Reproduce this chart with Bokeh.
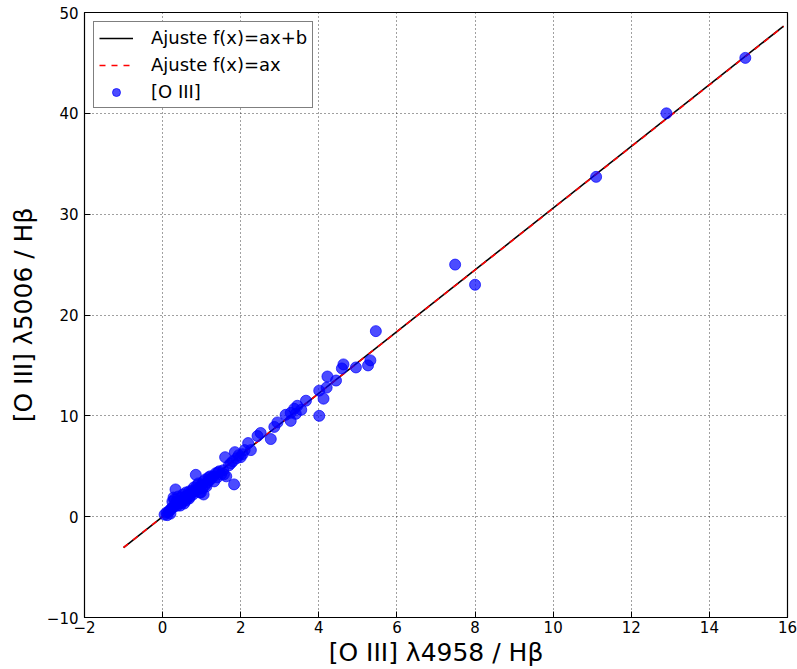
import numpy as np
from bokeh.plotting import figure
from bokeh.models import Range1d, Legend, LegendItem
from bokeh.embed import file_html
from bokeh.resources import INLINE

# Observed ratios: [O III] 4958/Hb (x) and [O III] 5006/Hb (y)
x_oiii = [0.05, 0.10, 0.12, 0.15, 0.18, 0.20, 0.22, 0.25, 0.28, 0.30,
          0.32, 0.35, 0.38, 0.40, 0.33, 0.42, 0.45, 0.48, 0.50, 0.52,
          0.55, 0.58, 0.60, 0.62, 0.65, 0.68, 0.70, 0.72, 0.75, 0.78,
          0.80, 0.82, 0.85, 0.88, 0.90, 0.92, 0.95, 0.98, 1.00, 1.02,
          1.05, 1.08, 1.10, 1.12, 1.15, 1.18, 1.20, 1.25, 1.30, 1.32,
          1.36, 1.40, 1.45, 1.50, 1.55, 1.57, 1.60, 1.63, 1.70, 1.75,
          1.80, 1.83, 1.85, 1.90, 1.95, 2.00, 2.05, 2.10, 2.19, 2.26,
          2.43, 2.51, 2.77, 2.86, 2.94, 3.15, 3.28, 3.28, 3.37, 3.41,
          3.45, 3.55, 3.67, 4.01, 4.01, 4.12, 4.20, 4.22, 4.44, 4.59,
          4.63, 4.95, 5.26, 5.32, 5.46, 7.49, 8.00, 11.10, 12.90, 14.92,
          1.05, 0.95, 1.22, 0.68, 0.55, 1.42, 0.25, 0.30, 0.45, 0.60]
y_oiii = [0.20, 0.40, 0.15, 0.50, 0.60, 0.30, 0.80, 0.90, 1.90, 1.00,
          1.20, 1.50, 1.10, 2.00, 2.70, 1.30, 1.60, 1.90, 1.40, 2.20,
          1.70, 2.00, 2.40, 1.80, 2.10, 2.50, 2.00, 2.30, 2.60, 2.20,
          2.90, 2.50, 4.15, 3.10, 2.70, 3.30, 2.90, 2.40, 3.20, 2.80,
          3.50, 3.10, 3.70, 3.00, 3.40, 3.90, 3.60, 3.80, 4.00, 3.50,
          4.30, 3.90, 4.50, 4.20, 4.60, 4.20, 5.90, 4.00, 5.10, 5.30,
          5.50, 3.20, 6.40, 5.80, 6.10, 5.90, 6.20, 6.60, 7.30, 6.60,
          8.00, 8.30, 7.70, 8.90, 9.35, 10.10, 10.30, 9.50, 10.70, 10.20,
          11.00, 10.60, 11.50, 10.00, 12.50, 11.70, 12.80, 13.90, 13.50, 14.70,
          15.10, 14.80, 15.00, 15.50, 18.40, 25.00, 23.00, 33.70, 40.00, 45.50,
          2.20, 2.40, 4.00, 1.80, 1.30, 4.40, 1.50, 1.70, 1.10, 1.60]

# Fit parameters
a_lin, b_lin = 3.06, 0.0      # f(x) = ax + b
a_prop = 3.058                # f(x) = ax
fit_x = np.array([-1.0, 15.9])

x_ticks = [-2, 0, 2, 4, 6, 8, 10, 12, 14, 16]
y_ticks = [-10, 0, 10, 20, 30, 40, 50]

FONT = "DejaVu Sans"

p = figure(width=797, height=669, output_backend="svg", toolbar_location=None,
           title=None, x_range=Range1d(-2, 16), y_range=Range1d(-10, 50),
           min_border_left=84, min_border_right=10, min_border_top=12,
           min_border_bottom=49)
p.background_fill_color = "white"
p.border_fill_color = "white"
p.outline_line_color = "black"
p.outline_line_width = 1.2

l_lin = p.line(fit_x, a_lin * fit_x + b_lin, line_color="black", line_width=1.6)
l_prop = p.line(fit_x, a_prop * fit_x, line_color="red", line_width=1.6,
                line_dash="6 6")
pts = p.scatter(x_oiii, y_oiii, size=11, fill_color="#0000ff", fill_alpha=0.7,
                line_color="#0000ff", line_alpha=0.7)

for ax in (p.xaxis[0], p.yaxis[0]):
    ax.major_tick_in = 6
    ax.major_tick_out = 0
    ax.minor_tick_in = 0
    ax.minor_tick_out = 0
    ax.axis_line_color = "black"
    ax.major_tick_line_color = "black"
    ax.major_label_text_font = FONT
    ax.major_label_text_font_size = "15px"
    ax.major_label_text_color = "black"
    ax.axis_label_text_font = FONT
    ax.axis_label_text_font_size = "25px"
    ax.axis_label_text_font_style = "normal"
    ax.axis_label_text_color = "black"

p.xaxis.ticker = x_ticks
p.yaxis.ticker = y_ticks
p.xaxis.major_label_overrides = {-2: "\u22122"}
p.yaxis.major_label_overrides = {-10: "\u221210"}
p.xaxis.major_label_standoff = 3
p.yaxis.major_label_standoff = 6
p.xaxis.axis_label_standoff = 2
p.yaxis.axis_label_standoff = 6
p.xaxis.axis_label = "[O III] \u03bb4958 / H\u03b2"
p.yaxis.axis_label = "[O III] \u03bb5006 / H\u03b2"

for g in (p.xgrid[0], p.ygrid[0]):
    g.grid_line_color = "black"
    g.grid_line_alpha = 0.75
    g.grid_line_dash = "1 3"
    g.grid_line_width = 1

legend = Legend(items=[
    LegendItem(label="Ajuste f(x)=ax+b", renderers=[l_lin]),
    LegendItem(label="Ajuste f(x)=ax", renderers=[l_prop]),
    LegendItem(label="[O III]", renderers=[pts]),
], location="top_left")
legend.margin = 9
legend.padding = 5
legend.spacing = 6
legend.glyph_width = 34
legend.glyph_height = 20
legend.label_height = 20
legend.label_standoff = 18
legend.label_text_font = FONT
legend.label_text_font_size = "18px"
legend.label_text_color = "black"
legend.border_line_color = "black"
legend.border_line_width = 1
legend.background_fill_color = "white"
legend.background_fill_alpha = 1.0
p.add_layout(legend, "center")

open("out.html", "w").write(file_html(p, INLINE))
